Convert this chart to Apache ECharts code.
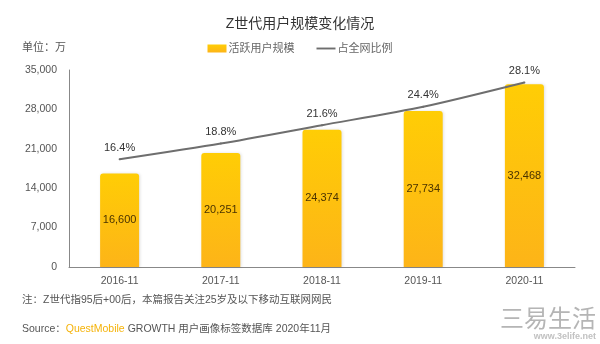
<!DOCTYPE html>
<html>
<head>
<meta charset="utf-8">
<script src="https://cdn.jsdelivr.net/npm/echarts@6/dist/echarts.min.js"></script>
<style>
  html, body { margin: 0; padding: 0; background: #fff; }
  #chart { width: 600px; height: 344px; }
</style>
</head>
<body>
<div id="chart"></div>
<script>
// Z-generation active users (10k) and share of all mobile internet users (%)
const categories = ['2016-11', '2017-11', '2018-11', '2019-11', '2020-11'];
const activeUsers = [16600, 20251, 24374, 27734, 32468];
const sharePct = [16.4, 18.8, 21.6, 24.4, 28.1];
const yTicks = { min: 0, max: 35000, interval: 7000 };

const FONT = '"Liberation Sans", "Noto Sans CJK SC", sans-serif';

const chart = echarts.init(document.getElementById('chart'));
chart.setOption({
  backgroundColor: '#ffffff',
  textStyle: { fontFamily: FONT },
  title: {
    text: 'Z世代用户规模变化情况',
    left: 'center',
    top: 12,
    textStyle: { fontSize: 14, fontWeight: 'normal', color: '#333', fontFamily: FONT }
  },
  legend: {
    top: 38,
    left: 'center',
    itemGap: 22,
    itemWidth: 19,
    itemHeight: 8,
    textStyle: { fontSize: 11, color: '#666', fontFamily: FONT, padding: [0, 0, 0, -3] },
    data: [
      { name: '活跃用户规模', icon: 'rect' },
      { name: '占全网比例', icon: 'path://M0,0 L20,0 L20,2 L0,2 Z', itemStyle: { color: '#6e6e6e', opacity: 1 } }
    ]
  },
  grid: { left: 69, right: 25, top: 70, bottom: 77 },
  xAxis: {
    type: 'category',
    data: categories,
    axisLine: { lineStyle: { color: '#888', width: 1 } },
    axisTick: { show: false },
    axisLabel: { color: '#555', fontSize: 10.5, margin: 9 }
  },
  yAxis: [
    {
      type: 'value',
      min: yTicks.min,
      max: yTicks.max,
      interval: yTicks.interval,
      axisLine: { show: true, lineStyle: { color: '#888', width: 1 } },
      axisTick: { show: false },
      splitLine: { show: false },
      axisLabel: {
        color: '#555',
        fontSize: 10.5,
        margin: 12,
        formatter: v => v.toLocaleString('en-US')
      }
    },
    {
      type: 'value',
      min: 0,
      max: 30,
      show: false,
      splitLine: { show: false }
    }
  ],
  series: [
    {
      name: '活跃用户规模',
      type: 'bar',
      data: activeUsers,
      barWidth: 39,
      itemStyle: {
        borderRadius: [3, 3, 0, 0],
        color: new echarts.graphic.LinearGradient(0, 0, 0, 1, [
          { offset: 0, color: '#ffcd05' },
          { offset: 1, color: '#fdb418' }
        ]),
        shadowColor: 'rgba(0,0,0,0.12)',
        shadowBlur: 3,
        shadowOffsetX: 1
      },
      label: {
        show: true,
        position: 'inside',
        color: '#4a3300',
        fontSize: 11,
        formatter: p => p.value.toLocaleString('en-US')
      },
      z: 2
    },
    {
      name: '占全网比例',
      type: 'line',
      yAxisIndex: 1,
      data: sharePct,
      smooth: 0.25,
      symbol: 'circle',
      symbolSize: 2,
      showSymbol: true,
      itemStyle: { color: '#6e6e6e' },
      lineStyle: { color: '#6e6e6e', width: 2 },
      label: {
        show: true,
        position: 'top',
        distance: 5,
        color: '#333',
        fontSize: 11,
        formatter: p => p.value.toFixed(1) + '%'
      },
      z: 3
    }
  ],
  graphic: [
    {
      type: 'text',
      left: 22,
      top: 42,
      style: { text: '单位：万', fill: '#555', fontSize: 11, fontFamily: FONT }
    },
    {
      type: 'text',
      left: 22,
      top: 295,
      style: {
        text: '注：Z世代指95后+00后，本篇报告关注25岁及以下移动互联网网民',
        fill: '#555',
        fontSize: 10.5,
        fontFamily: FONT
      }
    },
    {
      type: 'text',
      left: 22,
      top: 324,
      style: {
        text: '{a|Source：}{b|QuestMobile}{a| GROWTH 用户画像标签数据库 2020年11月}',
        rich: {
          a: { fill: '#555', fontSize: 10.5, fontFamily: FONT },
          b: { fill: '#f5b30a', fontSize: 10.5, fontFamily: FONT }
        }
      }
    },
    {
      type: 'text',
      right: 4,
      top: 306,
      style: {
        text: '三易生活',
        fill: '#b5b5b5',
        fontSize: 24,
        fontFamily: '"Noto Sans CJK SC", sans-serif'
      }
    },
    {
      type: 'text',
      right: 4,
      top: 332,
      style: {
        text: 'www.3elife.net',
        fill: '#c2c2c2',
        fontSize: 9,
        fontWeight: 'bold',
        fontFamily: FONT
      }
    }
  ]
});
</script>
</body>
</html>
